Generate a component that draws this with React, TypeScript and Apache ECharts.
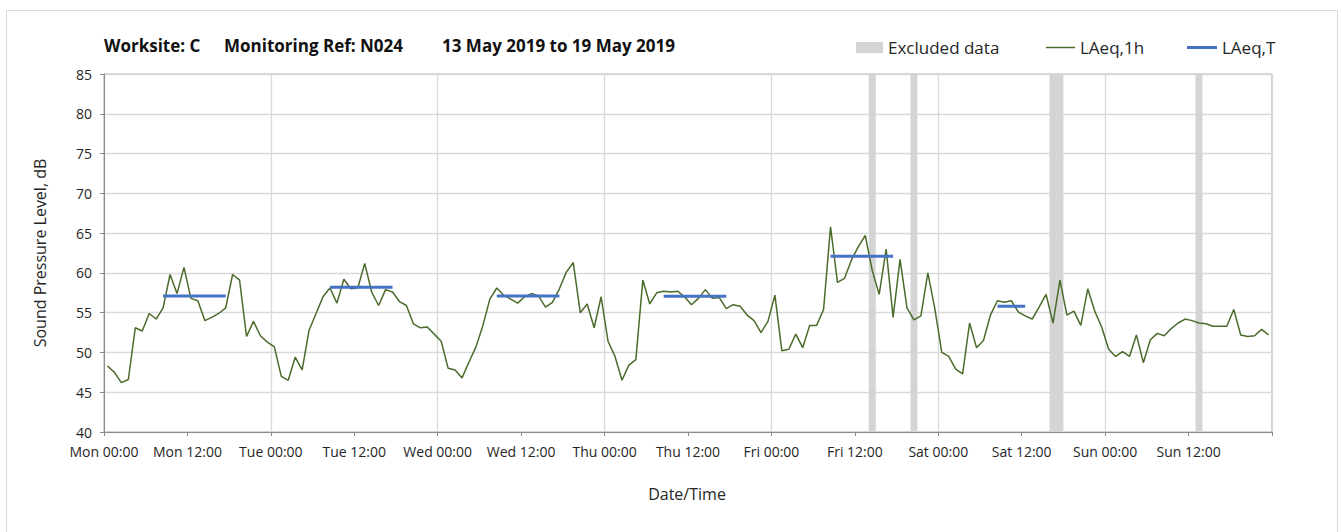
import React, { useEffect, useRef } from "react";
import * as echarts from "echarts";

const dayNames = ["Mon", "Tue", "Wed", "Thu", "Fri", "Sat", "Sun"];

// LAeq,1h hourly values, Mon 00:00 .. Sun 23:00 (plotted at mid-hour)
const laeq1h = [
  48.3, 47.5, 46.2, 46.6, 53.1, 52.7, 54.9, 54.2, 55.6, 59.8, 57.4, 60.7,
  56.8, 56.5, 54.0, 54.4, 54.9, 55.6, 59.8, 59.1, 52.0, 53.9, 52.1, 51.3,
  50.7, 47.0, 46.5, 49.4, 47.8, 52.8, 54.9, 57.0, 58.1, 56.2, 59.2, 58.0,
  58.1, 61.2, 57.6, 55.9, 57.9, 57.6, 56.4, 55.9, 53.6, 53.1, 53.2, 52.3,
  51.4, 48.0, 47.8, 46.8, 48.8, 50.7, 53.4, 56.7, 58.1, 57.2, 56.7, 56.2,
  57.0, 57.4, 57.1, 55.7, 56.3, 58.0, 60.1, 61.3, 55.0, 56.1, 53.1, 57.0,
  51.4, 49.5, 46.5, 48.4, 49.1, 59.1, 56.1, 57.5, 57.7, 57.6, 57.7, 57.0,
  56.0, 56.8, 57.9, 56.8, 56.9, 55.5, 56.0, 55.8, 54.7, 54.0, 52.5, 53.9,
  57.2, 50.2, 50.4, 52.3, 50.6, 53.4, 53.4, 55.4, 65.8, 58.8, 59.3, 61.6,
  63.3, 64.7, 60.3, 57.3, 63.0, 54.4, 61.7, 55.6, 54.1, 54.6, 60.0, 55.5,
  50.0, 49.5, 47.9, 47.3, 53.7, 50.6, 51.5, 54.7, 56.5, 56.3, 56.5, 55.1,
  54.6, 54.2, 55.7, 57.3, 53.7, 59.1, 54.7, 55.2, 53.4, 58.0, 55.2, 53.2,
  50.4, 49.5, 50.1, 49.5, 52.2, 48.7, 51.6, 52.4, 52.1, 53.0, 53.7, 54.2,
  54.0, 53.7, 53.6, 53.3, 53.3, 53.3, 55.4, 52.2, 52.0, 52.1, 52.9, 52.2,
];

// LAeq,T periods (hours from Mon 00:00) and levels
const periodStart = [8.5, 32.5, 56.5, 80.5, 104.5, 128.5];
const periodEnd = [17.5, 41.5, 65.5, 89.5, 113.5, 132.5];
const periodLevel = [57.1, 58.2, 57.1, 57.05, 62.1, 55.8];

// Excluded data windows (hours from Mon 00:00)
const excludedStart = [110, 116, 136, 157];
const excludedEnd = [111, 117, 138, 158];

const yTicks = [40, 45, 50, 55, 60, 65, 70, 75, 80, 85];

const FONT = "'Open Sans', 'Noto Sans', sans-serif";
const GREEN = "#4a6b2a";
const BLUE = "#4472c4";
const GREY = "#d4d4d4";

export default function App() {
  const ref = useRef<HTMLDivElement>(null);

  useEffect(() => {
    if (!ref.current) return;
    const chart = echarts.init(ref.current, undefined, { renderer: "svg" });

    const hourly = laeq1h.map((v, i) => [i + 0.5, v]);
    const periods: any[] = [];
    periodStart.forEach((s, k) => {
      periods.push([s, periodLevel[k]]);
      periods.push([periodEnd[k], periodLevel[k]]);
      periods.push([periodEnd[k] + 0.01, null]);
    });
    const excluded = excludedStart.map((s, k) => [s, excludedEnd[k]]);

    const legendText = { fontFamily: FONT, fontSize: 17, color: "#262626" };
    const titleStyle = { fontFamily: FONT, fontSize: 17, fontWeight: "bold", fill: "#111" };

    const option: any = {
      animation: false,
      backgroundColor: "#ffffff",
      textStyle: { fontFamily: FONT },
      grid: {
        left: 104,
        right: 69,
        top: 74,
        bottom: 100,
        show: true,
        borderColor: "#a6a6a6",
        borderWidth: 1,
        backgroundColor: "transparent",
      },
      graphic: [
        {
          type: "rect",
          left: 4,
          top: 8,
          shape: { width: 1331, height: 540 },
          style: { fill: "none", stroke: "#d9d9d9", lineWidth: 1 },
          silent: true,
        },
        { type: "text", left: 104, top: 37, style: { text: "Worksite: C", ...titleStyle } },
        { type: "text", left: 224, top: 37, style: { text: "Monitoring Ref: N024", ...titleStyle } },
        { type: "text", left: 442, top: 37, style: { text: "13 May 2019 to 19 May 2019", ...titleStyle } },
        {
          type: "text",
          x: 687,
          y: 494,
          style: {
            text: "Date/Time",
            fontFamily: FONT,
            fontSize: 16,
            fill: "#262626",
            align: "center",
            verticalAlign: "middle",
          },
        },
        {
          type: "text",
          x: 40,
          y: 253,
          rotation: Math.PI / 2,
          style: {
            text: "Sound Pressure Level, dB",
            fontFamily: FONT,
            fontSize: 16,
            fill: "#262626",
            align: "center",
            verticalAlign: "middle",
          },
        },
      ],
      legend: [
        {
          left: 856,
          top: 39,
          padding: 0,
          itemWidth: 27,
          itemHeight: 11,
          textStyle: legendText,
          data: [{ name: "Excluded data", icon: "rect", itemStyle: { color: GREY } }],
        },
        {
          left: 1046,
          top: 39,
          padding: 0,
          itemWidth: 29,
          itemHeight: 1.5,
          textStyle: legendText,
          data: [{ name: "LAeq,1h", icon: "rect", itemStyle: { color: GREEN } }],
        },
        {
          left: 1187,
          top: 39,
          padding: 0,
          itemWidth: 30,
          itemHeight: 3,
          textStyle: legendText,
          data: [{ name: "LAeq,T", icon: "rect", itemStyle: { color: BLUE } }],
        },
      ],
      xAxis: [
        {
          type: "value",
          min: 0,
          max: 168,
          interval: 12,
          axisLine: { show: true, onZero: false, lineStyle: { color: "#8c8c8c", width: 1 } },
          axisTick: { show: true, length: 4, lineStyle: { color: "#8c8c8c" } },
          splitLine: { show: false },
          axisLabel: {
            margin: 12,
            fontFamily: FONT,
            fontSize: 14,
            color: "#262626",
            formatter: (v: number) => {
              if (v >= 168) return "";
              const d = Math.floor(v / 24);
              const h = v % 24;
              return dayNames[d] + " " + (h < 10 ? "0" + h : "" + h) + ":00";
            },
          },
        },
        {
          type: "value",
          min: 0,
          max: 168,
          interval: 24,
          show: true,
          axisLine: { show: false },
          axisTick: { show: false },
          axisLabel: { show: false },
          splitLine: { show: true, lineStyle: { color: "#d9d9d9", width: 1.3 } },
        },
      ],
      yAxis: {
        type: "value",
        min: yTicks[0],
        max: yTicks[yTicks.length - 1],
        interval: 5,
        axisLine: { show: true, lineStyle: { color: "#8c8c8c", width: 1 } },
        axisTick: { show: true, length: 4, lineStyle: { color: "#8c8c8c" } },
        splitLine: { show: true, lineStyle: { color: "#d9d9d9", width: 1.3 } },
        axisLabel: { margin: 12, fontFamily: FONT, fontSize: 14, color: "#262626" },
      },
      series: [
        {
          name: "Excluded data",
          type: "custom",
          xAxisIndex: 0,
          itemStyle: { color: GREY },
          encode: { x: [0, 1] },
          data: excluded,
          z: 1,
          renderItem: (params: any, api: any) => {
            const p1 = api.coord([api.value(0), yTicks[yTicks.length - 1]]);
            const p2 = api.coord([api.value(1), yTicks[0]]);
            return {
              type: "rect",
              shape: { x: p1[0], y: p1[1], width: p2[0] - p1[0], height: p2[1] - p1[1] },
              style: { fill: GREY },
            };
          },
        },
        {
          name: "LAeq,1h",
          type: "line",
          xAxisIndex: 0,
          data: hourly,
          symbol: "none",
          showSymbol: false,
          lineStyle: { color: GREEN, width: 1.5 },
          itemStyle: { color: GREEN },
          z: 3,
        },
        {
          name: "LAeq,T",
          type: "line",
          xAxisIndex: 0,
          data: periods,
          symbol: "none",
          showSymbol: false,
          connectNulls: false,
          lineStyle: { color: BLUE, width: 3 },
          itemStyle: { color: BLUE },
          z: 4,
        },
      ],
    };

    chart.setOption(option);
    return () => chart.dispose();
  }, []);

  return (
    <div
      ref={ref}
      style={{ position: "fixed", left: 0, top: 0, width: 1341, height: 532, background: "#fff" }}
    />
  );
}
